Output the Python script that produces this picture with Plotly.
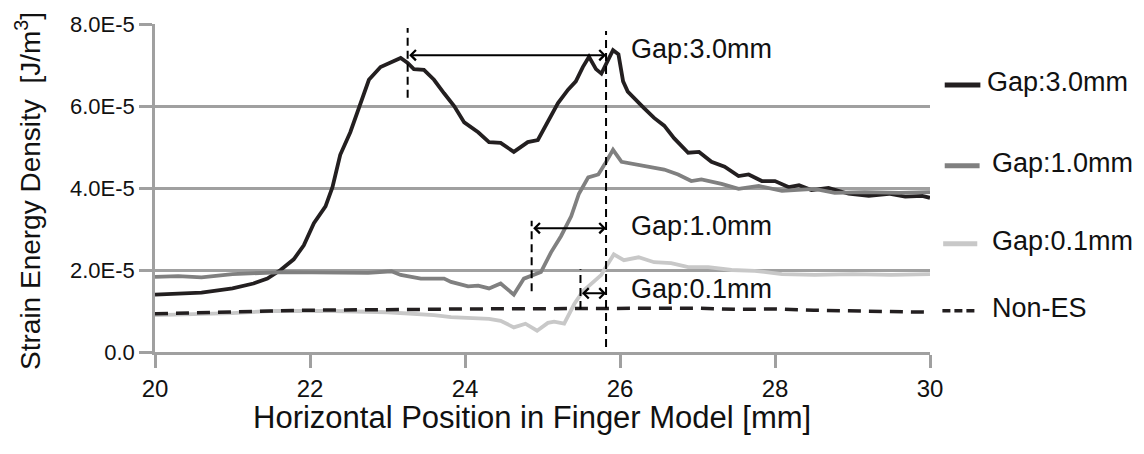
import numpy as np
import plotly.graph_objects as go

# ---- data (values in units of 1E-5 J/m^3) ----
x_gap30 = [20.0, 20.3, 20.6, 21.0, 21.27, 21.45, 21.62, 21.79, 21.92, 22.05,
           22.2, 22.29, 22.39, 22.52, 22.65, 22.76, 22.91, 23.04, 23.17, 23.26,
           23.34, 23.47, 23.6, 23.73, 23.86, 23.99, 24.17, 24.31, 24.46, 24.63,
           24.81, 24.94, 25.07, 25.2, 25.33, 25.43, 25.52, 25.6, 25.69, 25.76,
           25.82, 25.91, 25.98, 26.04, 26.1, 26.19, 26.31, 26.44, 26.57, 26.7,
           26.88, 27.02, 27.18, 27.35, 27.53, 27.66, 27.83, 28.0, 28.18, 28.31,
           28.47, 28.69, 28.95, 29.21, 29.47, 29.68, 29.9, 30.0]
y_gap30 = [1.40, 1.42, 1.45, 1.55, 1.67, 1.79, 2.0, 2.26, 2.6, 3.14,
           3.55, 4.02, 4.81, 5.36, 6.07, 6.64, 6.95, 7.07, 7.17, 7.05,
           6.9, 6.88, 6.64, 6.31, 6.0, 5.6, 5.36, 5.12, 5.1, 4.88,
           5.12, 5.17, 5.6, 6.07, 6.4, 6.6, 6.95, 7.2, 6.9, 6.79,
           7.02, 7.36, 7.26, 6.6, 6.35, 6.17, 5.95, 5.71, 5.52, 5.21,
           4.86, 4.88, 4.64, 4.52, 4.29, 4.33, 4.17, 4.17, 4.02, 4.07,
           3.95, 4.0, 3.86, 3.81, 3.86, 3.79, 3.81, 3.76]

x_gap10 = [20.0, 20.3, 20.6, 21.0, 21.66, 22.26, 22.75, 23.05, 23.17, 23.43,
           23.73, 23.82, 24.04, 24.17, 24.31, 24.46, 24.63, 24.76, 24.88, 24.98,
           25.11, 25.24, 25.37, 25.47, 25.59, 25.72, 25.8, 25.91, 26.02, 26.14,
           26.27, 26.44, 26.57, 26.75, 26.92, 27.05, 27.31, 27.53, 27.79, 28.09,
           28.51, 28.77, 29.16, 29.6, 30.0]
y_gap10 = [1.83, 1.85, 1.82, 1.9, 1.95, 1.95, 1.93, 1.97, 1.88, 1.79,
           1.79, 1.71, 1.6, 1.62, 1.55, 1.67, 1.4, 1.79, 1.88, 1.95,
           2.43, 2.83, 3.31, 3.86, 4.26, 4.33, 4.57, 4.93, 4.64, 4.6,
           4.57, 4.5, 4.45, 4.33, 4.17, 4.21, 4.1, 3.98, 4.05, 3.93,
           3.98, 3.88, 3.9, 3.88, 3.9]

x_gap01 = [20.0, 20.5, 21.0, 21.5, 22.3, 23.0, 23.17, 23.6, 23.82, 24.04,
           24.31, 24.46, 24.63, 24.78, 24.93, 25.07, 25.15, 25.28, 25.41, 25.52,
           25.65, 25.76, 25.8, 25.92, 26.05, 26.24, 26.44, 26.66, 26.88, 27.14,
           27.44, 27.74, 28.09, 28.51, 29.0, 29.5, 30.0]
y_gap01 = [0.90, 0.92, 0.95, 1.0, 1.0, 0.97, 0.95, 0.9, 0.85, 0.83,
           0.81, 0.76, 0.6, 0.69, 0.52, 0.71, 0.74, 0.69, 1.17, 1.48,
           1.71, 1.88, 2.02, 2.38, 2.24, 2.31, 2.19, 2.17, 2.07, 2.07,
           2.0, 1.98, 1.9, 1.88, 1.9, 1.88, 1.9]

x_nones = [20.0, 20.5, 21.0, 21.5, 22.0, 22.5, 23.0, 23.5, 24.0, 24.5,
           25.0, 25.5, 26.0, 26.5, 27.0, 27.5, 28.0, 28.5, 29.0, 29.5, 30.0]
y_nones = [0.93, 0.96, 0.99, 1.0, 1.02, 1.02, 1.03, 1.04, 1.05, 1.05,
           1.06, 1.07, 1.07, 1.06, 1.07, 1.04, 1.05, 1.02, 1.0, 0.98, 0.97]

SCALE = 1e-5
y_tick_vals = [0, 2, 4, 6, 8]
y_tick_text = ["0.0", "2.0E-5", "4.0E-5", "6.0E-5", "8.0E-5"]
x_tick_vals = [20, 22, 24, 26, 28, 30]

series_names = ["Gap:3.0mm", "Gap:1.0mm", "Gap:0.1mm", "Non-ES"]

# gap markers: (label, left x, right x, arrow y, left-line y0, left-line y1, label y)
gap_marks = [
    ("Gap:3.0mm", 23.26, 25.82, 7.24, 6.2, 7.9, 7.38),
    ("Gap:1.0mm", 24.86, 25.82, 3.02, 1.48, 3.2, 3.08),
    ("Gap:0.1mm", 25.49, 25.82, 1.43, 1.05, 2.02, 1.54),
]
right_line_y = (0.12, 7.83)
label_x = 26.12

FONT = "Liberation Sans, Arial, sans-serif"

colors = ["#231f20", "#808080", "#c8c8c8", "#231f20"]

fig = go.Figure()
fig.add_trace(go.Scatter(x=x_gap30, y=np.array(y_gap30) * SCALE, mode="lines",
                         name=series_names[0], line=dict(color=colors[0], width=3.8)))
fig.add_trace(go.Scatter(x=x_gap10, y=np.array(y_gap10) * SCALE, mode="lines",
                         name=series_names[1], line=dict(color=colors[1], width=3.8)))
fig.add_trace(go.Scatter(x=x_gap01, y=np.array(y_gap01) * SCALE, mode="lines",
                         name=series_names[2], line=dict(color=colors[2], width=3.8)))
fig.add_trace(go.Scatter(x=x_nones, y=np.array(y_nones) * SCALE, mode="lines",
                         name=series_names[3],
                         line=dict(color=colors[3], width=3.5, dash="13px,8px")))

shapes = []
annotations = []
dash_style = dict(color="black", width=2, dash="8px,5px")
shapes.append(dict(type="line", xref="x", yref="y", x0=25.82, x1=25.82,
                   y0=right_line_y[0] * SCALE, y1=right_line_y[1] * SCALE, line=dash_style))
for name, xl, xr, ya, y0, y1, ly in gap_marks:
    shapes.append(dict(type="line", xref="x", yref="y", x0=xl, x1=xl,
                       y0=y0 * SCALE, y1=y1 * SCALE, line=dash_style))
    annotations.append(dict(x=xr, y=ya * SCALE, ax=xl, ay=ya * SCALE,
                            xref="x", yref="y", axref="x", ayref="y",
                            text="", showarrow=True, arrowside="end+start",
                            arrowhead=4, startarrowhead=4, arrowsize=1, startarrowsize=1,
                            arrowwidth=2, arrowcolor="black", standoff=0, startstandoff=0))
    annotations.append(dict(x=label_x, y=ly * SCALE, xref="x", yref="y", text=name,
                            showarrow=False, xanchor="left", yanchor="middle",
                            font=dict(family=FONT, size=27, color="#111")))

# manual legend (paper coordinates)
legend_rows = [0.822, 0.575, 0.337, 0.133]
legend_text_x = [1.071, 1.077, 1.077, 1.077]
legend_line_x = [(1.019, 1.065), (1.019, 1.064), (1.017, 1.061), (1.016, 1.061)]
legend_line_rows = [0.814, 0.568, 0.330, 0.126]
for i, name in enumerate(series_names):
    ln = dict(color=colors[i], width=5)
    if i == 3:
        ln = dict(color=colors[i], width=3.5, dash="8px,4px")
    shapes.append(dict(type="line", xref="paper", yref="paper",
                       x0=legend_line_x[i][0], x1=legend_line_x[i][1],
                       y0=legend_line_rows[i], y1=legend_line_rows[i], line=ln))
    annotations.append(dict(x=legend_text_x[i], y=legend_rows[i], xref="paper", yref="paper",
                            text=name, showarrow=False, xanchor="left", yanchor="middle",
                            font=dict(family=FONT, size=27, color="#111")))

# axis titles
annotations.append(dict(x=-0.163, y=0.49, xref="paper", yref="paper",
                        text="Strain Energy Density  [J/m<sup>3</sup>]", textangle=-90,
                        showarrow=False, xanchor="center", yanchor="middle",
                        font=dict(family=FONT, size=28, color="#111")))
annotations.append(dict(x=0.486, y=-0.2, xref="paper", yref="paper",
                        text="Horizontal Position in Finger Model [mm]",
                        showarrow=False, xanchor="center", yanchor="middle",
                        font=dict(family=FONT, size=31, color="#111")))

grid_col = "#a0a0a0"
fig.update_layout(
    width=1144, height=454,
    margin=dict(l=155, r=214, t=19, b=102),
    paper_bgcolor="white", plot_bgcolor="white",
    showlegend=False,
    shapes=shapes, annotations=annotations,
    xaxis=dict(range=[20, 30], tickvals=x_tick_vals, showgrid=False, zeroline=False,
               showline=True, linecolor=grid_col, linewidth=2.5,
               ticks="outside", ticklen=13, tickwidth=2.5, tickcolor=grid_col,
               tickfont=dict(family=FONT, size=24, color="#111")),
    yaxis=dict(range=[0, 8 * SCALE], tickvals=[v * SCALE for v in y_tick_vals],
               ticktext=y_tick_text, showgrid=True, gridcolor=grid_col, gridwidth=2.5,
               zeroline=False, showline=True, linecolor=grid_col, linewidth=2.5,
               ticks="outside", ticklen=13, tickwidth=2.5, tickcolor=grid_col,
               tickfont=dict(family=FONT, size=22, color="#111")),
)

fig.write_html("out.html")
